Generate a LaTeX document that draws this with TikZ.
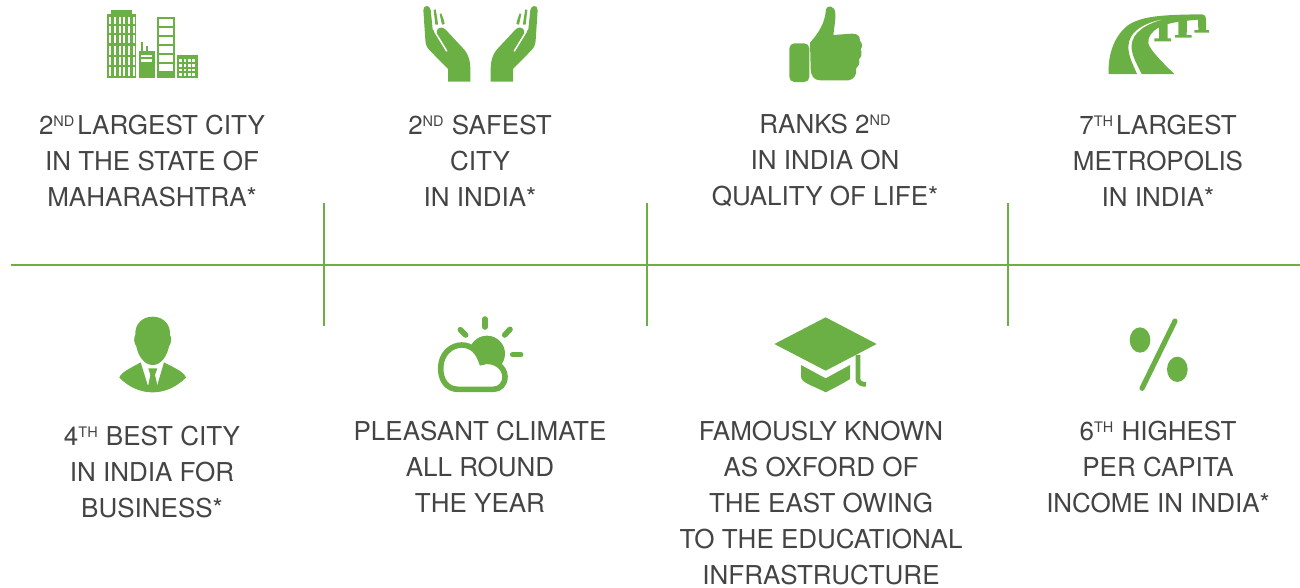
\documentclass[tikz,border=0pt]{standalone}
\usepackage{fontspec}
\setmainfont{TeX Gyre Heros}
\definecolor{leaf}{HTML}{6BB045}
\definecolor{ink}{HTML}{444444}
\newcommand{\ord}[1]{\raisebox{0.3em}{\fontsize{14.5}{14.5}\selectfont #1}\hspace{1pt}}
\tikzset{
  x=1pt,y=-1pt,
  label/.style={inner sep=0pt,align=center,text=ink,font=\fontsize{26}{36}\selectfont},
  rule/.style={draw=leaf,line width=2pt}
}
\newcommand{\handshape}{%
  \fill[leaf] (40,30) .. controls (40,14) and (60,14) .. (62,30) -- (68,88) -- (80,102) .. controls (76,84) and (96,76) .. (106,88)
    -- (162,148) .. controls (177,166) and (181,185) .. (181,205) -- (181,245) -- (114,245) -- (114,207) -- (58,150) .. controls (48,138) and (47,132) .. (46,120) -- cycle;
  \draw[white,line width=1.5pt,line cap=round] (74,94) -- (110,153);
  \fill[leaf] (71,30) -- (77,28) .. controls (80,45) and (83,60) .. (84,74) -- (76,74) -- cycle;
  \fill[leaf] (89,42) -- (94,40) .. controls (98,50) and (102,60) .. (104,72) -- (96,74) -- cycle;
}
\begin{document}
\begin{tikzpicture}
\useasboundingbox (0,0) rectangle (1300,587);
% rules
\coordinate (hL) at (11,265); \coordinate (hR) at (1300,265);
\coordinate (a1) at (324,203); \coordinate (a2) at (324,326);
\coordinate (b1) at (647,203); \coordinate (b2) at (647,326);
\coordinate (c1) at (1008,203); \coordinate (c2) at (1008,326);
\draw[rule] (hL) -- (hR);
\draw[rule] (a1) -- (a2);
\draw[rule] (b1) -- (b2);
\draw[rule] (c1) -- (c2);
% labels
\node[label] (t1) at (152,160.7) {2\ord{ND}\hspace{2pt}LARGEST CITY\\IN THE STATE OF\\MAHARASHTRA*};
\node[label] (t2) at (480,160.7) {2\ord{ND} SAFEST\\CITY\\IN INDIA*};
\node[label] (t3) at (825,160.7) {RANKS 2\ord{ND}\\IN INDIA ON\\QUALITY OF LIFE*};
\node[label] (t4) at (1158,160.7) {7\ord{TH}\hspace{2pt}LARGEST\\METROPOLIS\\IN INDIA*};
\node[label] (t5) at (152,471.7) {4\ord{TH} BEST CITY\\IN INDIA FOR\\BUSINESS*};
\node[label] (t6) at (480,467) {PLEASANT CLIMATE\\ALL ROUND\\THE YEAR};
\node[label] (t7) at (821,503) {FAMOUSLY KNOWN\\AS OXFORD OF\\THE EAST OWING\\TO THE EDUCATIONAL\\INFRASTRUCTURE};
\node[label] (t8) at (1158,466.7) {6\ord{TH} HIGHEST\\PER CAPITA\\INCOME IN INDIA*};
% city
\begin{scope}[shift={(90,0)},scale=1/3]
  \fill[leaf] (50,42) rectangle (138,233);
  \fill[leaf] (64,30) rectangle (126,42);
  \foreach \cx in {58,72,86,100,114,128}
    \foreach \ya/\yb in {50/72,78/98,105/130,138/165,172/195,200/228}
      \fill[white] (\cx,\ya) rectangle (\cx+6,\yb);
  \fill[leaf] (147,153) rectangle (194,233);
  \fill[leaf] (153,125) rectangle (160,153);
  \fill[leaf] (167,138) rectangle (174,153);
  \fill[white] (153,165) rectangle (187,172);
  \fill[white] (153,178) rectangle (187,185);
  \fill[leaf] (200,50) rectangle (255,233);
  \foreach \ya/\yb in {58/78,84/104,111/132,139/160,165/187,192/213}
    \fill[white] (208,\ya) rectangle (248,\yb);
  \fill[leaf] (262,166) rectangle (324,233);
  \foreach \cx in {268,281,294,307}
    \foreach \cy in {178,192,206,220}
      \fill[white] (\cx,\cy) rectangle (\cx+8,\cy+8);
\end{scope}
% hands
\begin{scope}[shift={(410,0)},scale=1/3]
  \handshape
  \begin{scope}[shift={(423,0)},xscale=-1]
    \handshape
  \end{scope}
\end{scope}
% thumb
\begin{scope}[shift={(770,0)},scale=1/3]
  \fill[leaf,rounded corners=5pt] (58,130) rectangle (118,246);
  \fill[leaf] (120,128) .. controls (145,100) and (165,70) .. (168,28)
    .. controls (170,14) and (195,16) .. (196,40) .. controls (197,65) and (192,85) .. (190,105)
    -- (245,101) .. controls (262,100) and (270,108) .. (270,122) .. controls (278,130) and (277,142) .. (272,148)
    .. controls (277,158) and (275,170) .. (267,178) .. controls (270,190) and (266,200) .. (258,206)
    .. controls (262,222) and (252,240) .. (235,241) -- (150,241) .. controls (130,241) and (122,225) .. (122,205) -- cycle;
\end{scope}
% road
\begin{scope}[shift={(1095,0)},scale=1/3]
  \fill[leaf] (41,222) .. controls (38,160) and (60,105) .. (100,75) .. controls (140,50) and (190,44) .. (322,43)
    .. controls (330,43) and (333,50) .. (333,58) -- (333,90) -- (342,90) -- (342,98) -- (298,98) -- (298,90) -- (310,90) -- (309,59)
    -- (276,62) -- (275,105) -- (290,105) -- (290,113) -- (240,113) -- (240,105) -- (250,105) -- (250,65) -- (218,72) -- (218,115) -- (228,115) -- (228,124) -- (178,124) -- (178,115) -- (192,115) -- (192,82)
    .. controls (170,95) and (158,110) .. (160,130) .. controls (165,150) and (200,185) .. (238,222) -- (140,222)
    .. controls (125,190) and (108,165) .. (110,135) .. controls (112,100) and (150,70) .. (215,56)
    .. controls (150,65) and (100,95) .. (100,140) .. controls (100,170) and (115,195) .. (126,222) -- cycle;
\end{scope}
% man
\begin{scope}[shift={(100,305)},scale=1/3]
  \fill[leaf] (158,35) .. controls (190,35) and (212,58) .. (210,90) .. controls (216,98) and (214,115) .. (207,124)
    .. controls (202,150) and (185,180) .. (158,180) .. controls (131,180) and (114,150) .. (109,124)
    .. controls (102,115) and (100,98) .. (106,90) .. controls (104,58) and (126,35) .. (158,35) -- cycle;
  \fill[leaf] (58,218) .. controls (64,200) and (95,188) .. (122,172) -- (143,240) -- (172,240) -- (192,172)
    .. controls (222,188) and (252,200) .. (258,218) .. controls (225,250) and (190,262) .. (158,262)
    .. controls (125,262) and (90,250) .. (58,218) -- cycle;
  \fill[leaf] (145,190) -- (172,190) -- (165,210) -- (172,240) -- (158,250) -- (145,240) -- (151,210) -- cycle;
\end{scope}
% climate
\begin{scope}[shift={(425,305)},scale=1/3]
  \draw[leaf,line width=5.6pt,line cap=round] (180,42) -- (180,66);
  \draw[leaf,line width=5.6pt,line cap=round] (106,74) -- (122,90);
  \draw[leaf,line width=5.6pt,line cap=round] (255,73) -- (239,90);
  \draw[leaf,line width=5.6pt,line cap=round] (263,149) -- (287,149);
  \fill[leaf] (186,146) circle[radius=54];
  \draw[leaf,fill=white,line width=5.6pt] (100,253) .. controls (65,253) and (47,225) .. (47,190)
    .. controls (47,145) and (80,120) .. (110,120) .. controls (140,120) and (160,140) .. (170,172)
    .. controls (205,160) and (240,185) .. (240,215) .. controls (240,238) and (225,253) .. (205,253) -- cycle;
\end{scope}
% cap
\begin{scope}[shift={(765,305)},scale=1/3]
  \fill[leaf] (28,117) -- (182,37) -- (335,117) -- (182,197) -- cycle;
  \fill[leaf] (108,180) -- (182,220) -- (255,180) -- (255,222) .. controls (235,235) and (205,250) .. (182,262)
    .. controls (160,250) and (130,240) .. (115,228) .. controls (110,224) and (108,220) .. (108,214) -- cycle;
  \draw[leaf,line width=4.8pt] (279,150) -- (279,222) .. controls (279,234) and (290,238) .. (303,238);
\end{scope}
% percent
\begin{scope}[shift={(1115,310)},scale=1/3]
  \fill[leaf] (75,90) ellipse[x radius=31,y radius=38];
  \fill[leaf] (187,178) ellipse[x radius=31,y radius=38];
  \draw[leaf,line width=5.2pt,line cap=round] (180,33) -- (81,235);
\end{scope}
\end{tikzpicture}
\end{document}
